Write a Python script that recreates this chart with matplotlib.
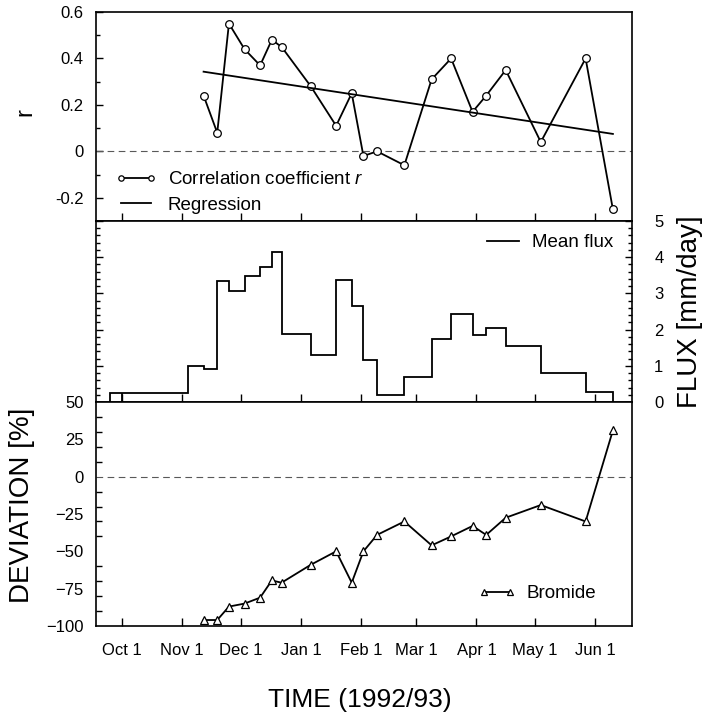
import numpy as np
import matplotlib
matplotlib.use("Agg")
import matplotlib.pyplot as plt
import matplotlib.dates as mdates
from matplotlib.ticker import FixedLocator, MultipleLocator

plt.rcParams['font.family'] = ['Liberation Sans', 'DejaVu Sans']
plt.rcParams['mathtext.fontset'] = 'custom'
plt.rcParams['mathtext.it'] = 'Liberation Sans:italic'
plt.rcParams['mathtext.rm'] = 'Liberation Sans'

# sampling dates (end of each flux interval)
dates = ['1992-11-12', '1992-11-19', '1992-11-25', '1992-12-03', '1992-12-11',
         '1992-12-17', '1992-12-22', '1993-01-06', '1993-01-19', '1993-01-27',
         '1993-02-02', '1993-02-09', '1993-02-23', '1993-03-09', '1993-03-19',
         '1993-03-30', '1993-04-06', '1993-04-16', '1993-05-04', '1993-05-27',
         '1993-06-10']

# correlation coefficient r
r_vals = [0.24, 0.08, 0.55, 0.44, 0.37, 0.48, 0.45, 0.28, 0.11, 0.25,
          -0.02, 0.00, -0.06, 0.31, 0.40, 0.17, 0.24, 0.35, 0.04, 0.40,
          -0.25]
# regression line at first and last date
reg_vals = [0.343, 0.075]

# mean flux between sampling dates [mm/day]
flux_start = ['1992-09-25', '1992-10-01', '1992-11-04']
flux_vals = [0.26, 0.26, 1.00, 0.91, 3.34, 3.08, 3.49, 3.72, 4.15, 1.88,
             1.31, 3.36, 2.65, 1.17, 0.19, 0.69, 1.75, 2.44, 1.86, 2.05,
             1.56, 0.80, 0.28]

# bromide deviation [%]
bromide = [-96, -96, -87, -85, -81, -69.5, -71, -59, -50, -71, -50, -39,
           -30, -46, -40, -33, -39, -27.5, -19, -30, 31]

month_ticks = ['1992-10-01', '1992-11-01', '1992-12-01', '1993-01-01',
               '1993-02-01', '1993-03-01', '1993-04-01', '1993-05-01',
               '1993-06-01']
month_labels = ['Oct 1', 'Nov 1', 'Dec 1', 'Jan 1', 'Feb 1', 'Mar 1',
                'Apr 1', 'May 1', 'Jun 1']


def to_num(d):
    return mdates.date2num(np.array(d, dtype='datetime64[D]'))


t = to_num(dates)
edges = np.concatenate([to_num(flux_start), t])
xt = to_num(month_ticks)
xlim = (to_num(['1992-09-17'])[0] + 0.8, to_num(['1993-06-19'])[0] + 0.8)

fig = plt.figure(figsize=(7.08, 7.19), dpi=100)
L, W = 96 / 708, 536 / 708
ax1 = fig.add_axes([L, 1 - 221 / 719, W, 209 / 719])
ax2 = fig.add_axes([L, 1 - 402 / 719, W, 181 / 719])
ax3 = fig.add_axes([L, 1 - 626 / 719, W, 224 / 719])

for ax in (ax1, ax2, ax3):
    ax.set_xlim(*xlim)
    ax.set_xticks(xt)
    ax.tick_params(axis='both', which='both', direction='in', width=1.0,
                   labelsize=12)
    ax.tick_params(axis='x', length=6, pad=12)
    ax.tick_params(axis='y', which='major', length=5, pad=9)
    ax.tick_params(axis='y', which='minor', length=3)
    for s in ax.spines.values():
        s.set_linewidth(1.2)
    ax.set_xticklabels([])
ax3.set_xticklabels(month_labels)

# correlation coefficient
ax1.axhline(0, color='0.35', lw=0.8, dashes=(6, 4))
ax1.plot(t, r_vals, '-o', color='black', lw=1.3, ms=5.5, mfc='white',
         mew=0.9, label='Correlation coefficient $r$')
ax1.plot([t[0], t[-1]], reg_vals, '-', color='black', lw=1.3,
         label='Regression')
ax1.set_ylim(-0.3, 0.6)
ax1.set_yticks([-0.2, 0, 0.2, 0.4, 0.6])
ax1.set_yticklabels(['-0.2', '0', '0.2', '0.4', '0.6'])
ax1.yaxis.set_minor_locator(MultipleLocator(0.1))
ax1.legend(loc='lower left', bbox_to_anchor=(0.015, -0.02), frameon=False,
           fontsize=13.5, numpoints=2, handlelength=2.2, handletextpad=0.6,
           labelspacing=0.45, markerscale=0.7, borderaxespad=0.2)

# mean flux
ax2.stairs(flux_vals, edges, baseline=0, color='black', lw=1.3,
           label='Mean flux')
ax2.vlines(edges[1], 0, flux_vals[0], color='black', lw=1.3)
ax2.set_ylim(0, 5)
ax2.yaxis.set_major_locator(MultipleLocator(1))
ax2.yaxis.set_minor_locator(MultipleLocator(0.2))
ax2.tick_params(axis='y', which='both', left=True, right=True,
                labelleft=False, labelright=True)
ax2.tick_params(axis='y', which='major', pad=16)
ax2.legend(loc='upper right', bbox_to_anchor=(0.99, 1.0), frameon=False,
           fontsize=13.5, handlelength=1.7, handletextpad=0.7,
           borderaxespad=0.3)

# bromide deviation
ax3.axhline(0, color='0.35', lw=0.8, dashes=(6, 4))
ax3.plot(t, bromide, '-^', color='black', lw=1.3, ms=6, mfc='white',
         mew=0.9, label='Bromide')
ax3.set_ylim(-100, 50)
ax3.yaxis.set_major_locator(FixedLocator([-100, -75, -50, -25, 0, 25, 50]))
ax3.yaxis.set_minor_locator(MultipleLocator(10))
ax3.tick_params(axis='y', which='major', length=0)
ax3.tick_params(axis='y', which='minor', length=4)
ax3.legend(loc='lower right', bbox_to_anchor=(0.965, 0.03), frameon=False,
           fontsize=13.5, numpoints=2, handlelength=2.0, handletextpad=0.6,
           markerscale=0.7, borderaxespad=0.5)

fig.text(25 / 708, 1 - 112 / 719, 'r', rotation=90, fontsize=17,
         ha='center', va='center')
fig.text(22 / 708, 1 - 505 / 719, 'DEVIATION [%]', rotation=90, fontsize=20,
         ha='center', va='center')
fig.text(690 / 708, 1 - 312 / 719, 'FLUX [mm/day]', rotation=90, fontsize=20,
         ha='center', va='center')
fig.text(360 / 708, 1 - 700 / 719, 'TIME (1992/93)', fontsize=19,
         ha='center', va='center')

fig.savefig('out.png', dpi=100)
